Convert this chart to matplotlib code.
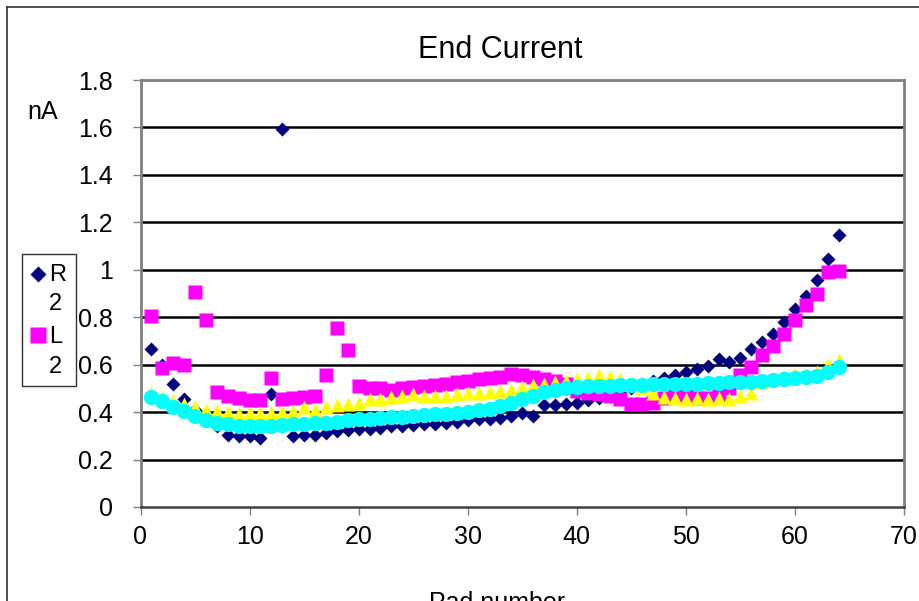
import numpy as np
import matplotlib
matplotlib.use('Agg')
import matplotlib.pyplot as plt
from matplotlib.lines import Line2D
from matplotlib.patches import Rectangle
from matplotlib.ticker import FuncFormatter

plt.rcParams['font.family'] = ['Liberation Sans', 'DejaVu Sans']

# pad numbers 1..64
pads = list(range(1, 65))

# R2 (navy diamonds)
r2 = [0.665, 0.60, 0.52, 0.455, 0.41, 0.37, 0.34, 0.305, 0.30, 0.30,
      0.29, 0.475, 1.595, 0.30, 0.305, 0.305, 0.31, 0.32, 0.325, 0.33,
      0.33, 0.335, 0.34, 0.34, 0.345, 0.35, 0.35, 0.355, 0.36, 0.365,
      0.37, 0.37, 0.375, 0.385, 0.395, 0.385, 0.43, 0.43, 0.435, 0.44,
      0.45, 0.46, 0.47, 0.48, 0.50, 0.52, 0.53, 0.545, 0.555, 0.57,
      0.58, 0.595, 0.625, 0.61, 0.63, 0.665, 0.695, 0.73, 0.78, 0.835,
      0.89, 0.955, 1.045, 1.145]

# L2 (magenta squares)
l2 = [0.805, 0.585, 0.605, 0.60, 0.905, 0.79, 0.485, 0.47, 0.46, 0.45,
      0.45, 0.545, 0.455, 0.46, 0.465, 0.47, 0.555, 0.755, 0.66, 0.51,
      0.50, 0.50, 0.495, 0.50, 0.505, 0.51, 0.515, 0.52, 0.525, 0.53,
      0.54, 0.545, 0.55, 0.56, 0.555, 0.55, 0.54, 0.53, 0.52, 0.49,
      0.48, 0.475, 0.47, 0.455, 0.435, 0.435, 0.44, 0.46, 0.47, 0.47,
      0.46, 0.46, 0.47, 0.50, 0.555, 0.59, 0.64, 0.68, 0.73, 0.79,
      0.85, 0.90, 0.99, 0.995]

# third series (yellow triangles)
s3 = [0.48, 0.465, 0.445, 0.435, 0.42, 0.41, 0.405, 0.40, 0.39, 0.395,
      0.395, 0.395, 0.40, 0.405, 0.42, 0.41, 0.42, 0.43, 0.435, 0.44,
      0.455, 0.455, 0.465, 0.47, 0.475, 0.47, 0.47, 0.47, 0.475, 0.48,
      0.48, 0.485, 0.49, 0.495, 0.505, 0.515, 0.52, 0.525, 0.53, 0.54,
      0.545, 0.555, 0.55, 0.54, 0.52, 0.50, 0.48, 0.465, 0.46, 0.455,
      0.46, 0.455, 0.46, 0.455, 0.47, 0.48, 0.525, 0.54, 0.55, 0.56,
      0.56, 0.57, 0.60, 0.62]

# fourth series (cyan circles)
s4 = [0.465, 0.445, 0.42, 0.405, 0.385, 0.365, 0.355, 0.348, 0.343, 0.34,
      0.34, 0.343, 0.346, 0.348, 0.35, 0.353, 0.356, 0.36, 0.365, 0.37,
      0.372, 0.375, 0.378, 0.38, 0.383, 0.386, 0.39, 0.393, 0.397, 0.402,
      0.408, 0.415, 0.425, 0.438, 0.455, 0.47, 0.485, 0.493, 0.50, 0.505,
      0.508, 0.51, 0.512, 0.513, 0.515, 0.516, 0.517, 0.518, 0.519, 0.52,
      0.52, 0.522, 0.524, 0.526, 0.528, 0.528, 0.53, 0.535, 0.54, 0.545,
      0.55, 0.553, 0.57, 0.59]

W, H = 919, 601
fig = plt.figure(figsize=(W / 100, H / 100), dpi=100)
ax = fig.add_axes([140.5 / W, 1 - 507 / H, (904 - 140.5) / W, (507 - 80) / H])

ax.plot(pads, r2, 'D', color='#000080', ms=7.5, mec='none', zorder=3)
ax.plot(pads, l2, 's', color='#FF00FF', ms=10, mec='none', zorder=4)
ax.plot(pads, s3, '^', color='#FFFF00', ms=10.5, mec='none', zorder=5)
ax.plot(pads, s4, 'o', color='#00FFFF', ms=11, mec='none', zorder=6)

ax.set_xlim(0, 70)
ax.set_ylim(0, 1.8)
ax.set_xticks(range(0, 71, 10))
ax.set_yticks(np.arange(0, 1.81, 0.2))
ax.yaxis.set_major_formatter(FuncFormatter(lambda v, p: '%g' % round(v, 1)))

# gridlines
for g in np.arange(0.2, 1.61, 0.2):
    ax.axhline(g, color='black', lw=1.8, zorder=1)

for side in ['left', 'top', 'right']:
    ax.spines[side].set_color('#808080')
    ax.spines[side].set_linewidth(2)
ax.spines['bottom'].set_color('#404040')
ax.spines['bottom'].set_linewidth(1.8)

ax.tick_params(axis='both', direction='out', length=6, color='#808080',
               labelsize=18, width=1)
ax.tick_params(axis='y', pad=14)
ax.tick_params(axis='x', pad=7)

fig.text(500 / W, 1 - 50 / H, 'End Current', fontsize=22, ha='center', va='center')
fig.text(43 / W, 1 - 112 / H, 'nA', fontsize=18, ha='center', va='center')
fig.text(497 / W, 1 - 591 / H, 'Pad number', fontsize=18, ha='center', va='top')

# outer chart border
fig.add_artist(Line2D([7 / W, 7 / W], [0, 1 - 7 / H], transform=fig.transFigure,
                      color='#303030', lw=1.2))
fig.add_artist(Line2D([7 / W, 1], [1 - 7 / H, 1 - 7 / H], transform=fig.transFigure,
                      color='#303030', lw=1.2))

# truncated legend box
fig.add_artist(Rectangle((22 / W, 1 - 386 / H), 54 / W, 132 / H, transform=fig.transFigure,
                         fill=False, edgecolor='#303030', lw=1))
fig.add_artist(Line2D([38 / W], [1 - 274 / H], marker='D', color='#000080', ms=8,
                      mec='none', transform=fig.transFigure))
fig.add_artist(Line2D([38 / W], [1 - 335 / H], marker='s', color='#FF00FF', ms=11,
                      mec='none', transform=fig.transFigure))
fig.text(49 / W, 1 - 275 / H, 'R', fontsize=17, ha='left', va='center')
fig.text(49 / W, 1 - 304 / H, '2', fontsize=17, ha='left', va='center')
fig.text(49 / W, 1 - 337 / H, 'L', fontsize=17, ha='left', va='center')
fig.text(49 / W, 1 - 367 / H, '2', fontsize=17, ha='left', va='center')

fig.savefig('out.png', dpi=100)
